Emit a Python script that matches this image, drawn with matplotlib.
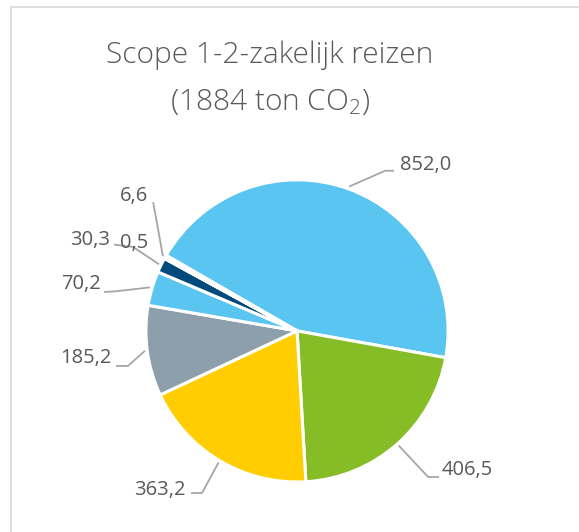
import numpy as np
import matplotlib.pyplot as plt
from matplotlib.patches import Rectangle

plt.rcParams['font.family'] = ['Open Sans', 'DejaVu Sans']
plt.rcParams['mathtext.fontset'] = 'custom'
plt.rcParams['mathtext.rm'] = 'Open Sans:light'
plt.rcParams['mathtext.it'] = 'Open Sans:light'

# slice values, clockwise from the top-left edge of the biggest slice
values = [852.0, 406.5, 363.2, 185.2, 70.2, 30.3, 0.5, 6.6]
labels = ["852,0", "406,5", "363,2", "185,2", "70,2", "30,3", "0,5", "6,6"]
colors = ["#5BC5F2", "#86BC25", "#FFCD00", "#8C9FAA", "#5BC5F2", "#004A7C", "#FFFFFF", "#FFFFFF"]

# label text position (data units), alignment, leader elbow points
label_pos = [(0.68, 1.10), (0.96, -0.92), (-0.74, -1.05), (-1.23, -0.18),
             (-1.30, 0.31), (-1.24, 0.60), (-1.17, 0.58), (-1.08, 0.89)]
label_ha = ["left", "left", "right", "right", "right", "right", "left", "center"]
leader_pts = [[(0.636, 1.06), (0.583, 1.06)],
              [(0.934, -0.967), (0.868, -0.967)],
              [(-0.695, -1.073), (-0.629, -1.073)],
              [(-1.192, -0.232), (-1.119, -0.232)],
              [(-1.272, 0.258), (-1.20, 0.262)],
              [(-1.205, 0.57), (-1.086, 0.556)],
              None,
              [(-0.951, 0.846)]]

fig = plt.figure(figsize=(5.79, 5.32), dpi=100)
fig.patch.set_facecolor("white")

# chart frame
fig.add_artist(Rectangle((11 / 579, -0.1), 1.2, (532 - 7) / 532 + 0.1, transform=fig.transFigure,
                         fill=False, edgecolor="#D9D9D9", linewidth=1.2))

ax = fig.add_axes([0.252, 0.094, 0.522, 0.568])
wedges, _ = ax.pie(values, colors=colors, startangle=150, counterclock=False,
                   wedgeprops=dict(edgecolor="white", linewidth=2.2))
ax.set_xlim(-1, 1)
ax.set_ylim(-1, 1)
ax.set_aspect("equal")
ax.axis("off")

for w, lab, pos, ha, pts in zip(wedges, labels, label_pos, label_ha, leader_pts):
    mid = np.deg2rad((w.theta1 + w.theta2) / 2)
    if pts is not None:
        anchor = (1.02 * np.cos(mid), 1.02 * np.sin(mid))
        xs = [p[0] for p in pts] + [anchor[0]]
        ys = [p[1] for p in pts] + [anchor[1]]
        ax.plot(xs, ys, color="#A6A6A6", linewidth=1.3, clip_on=False)
    ax.text(pos[0], pos[1], lab, ha=ha, va="center", fontsize=14.5,
            color="#595959", clip_on=False)

fig.text(270 / 579, (532 - 63) / 532, "Scope 1-2-zakelijk reizen", ha="center",
         va="baseline", fontsize=21.5, color="#595959", fontweight="light")
fig.text(270 / 579, (532 - 110) / 532, "(1884 ton CO$_2$)", ha="center",
         va="baseline", fontsize=21.5, color="#595959", fontweight="light")

fig.savefig("out.png", dpi=100)
